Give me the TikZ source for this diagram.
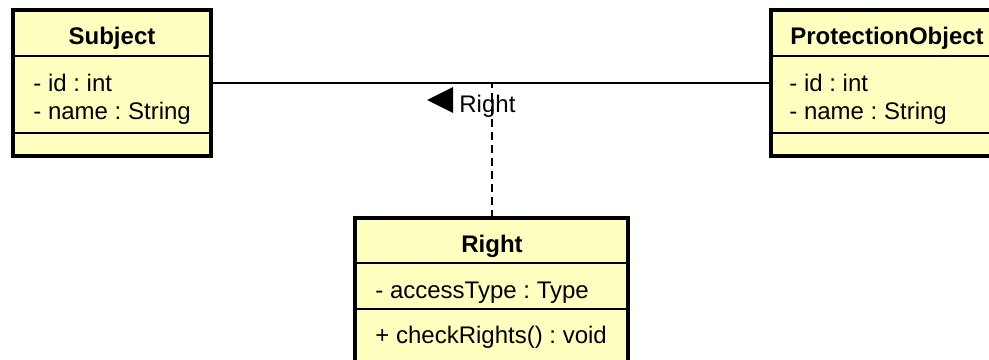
\documentclass[tikz,border=0pt]{standalone}
\usepackage{fontspec}
\setmainfont{Liberation Sans}
\frenchspacing
\definecolor{classfill}{HTML}{FFFFC0}
\tikzset{
  classbox/.style={draw=black, fill=classfill, line width=1.6pt, rectangle, inner sep=0pt, outer sep=0pt},
  divider/.style={draw=black, line width=0.7pt},
  txt/.style={font=\fontsize{12pt}{14pt}\selectfont, inner sep=0pt, anchor=base west},
  ttl/.style={font=\fontsize{12pt}{14pt}\selectfont\bfseries, inner sep=0pt, anchor=base},
  assoc/.style={draw=black, line width=1pt},
  dep/.style={draw=black, line width=1pt, dash pattern=on 4pt off 2.5pt},
}
\begin{document}
\begin{tikzpicture}[x=0.5pt, y=-0.5pt]
\clip (0,0) rectangle (989,359);
\fill[white] (0,0) rectangle (989,359);
% classes
\node[classbox, minimum width=99pt, minimum height=73pt] (subj) at (112,83) {};
\node[classbox, minimum width=117pt, minimum height=73pt] (po) at (888,83) {};
\node[classbox, minimum width=136.5pt, minimum height=76pt] (right) at (491.5,294) {};
% dividers
\draw[divider] ([yshift=-23pt]subj.north west) -- ([yshift=-23pt]subj.north east);
\draw[divider] ([yshift=-61.5pt]subj.north west) -- ([yshift=-61.5pt]subj.north east);
\draw[divider] ([yshift=-23pt]po.north west) -- ([yshift=-23pt]po.north east);
\draw[divider] ([yshift=-61.5pt]po.north west) -- ([yshift=-61.5pt]po.north east);
\draw[divider] ([yshift=-22.5pt]right.north west) -- ([yshift=-22.5pt]right.north east);
\draw[divider] ([yshift=-45.5pt]right.north west) -- ([yshift=-45.5pt]right.north east);
% texts
\node[ttl] (subjT) at (112,44) {Subject};
\node[txt] (subjA1) at (33,91) {- id : int};
\node[txt] (subjA2) at (33,119.5) {- name : String};
\node[ttl] (poT) at (887,44) {ProtectionObject};
\node[txt] (poA1) at (789,91) {- id : int};
\node[txt] (poA2) at (789,119.5) {- name : String};
\node[ttl] (rightT) at (492,252) {Right};
\node[txt] (rightA1) at (375,298) {- accessType : Type};
\node[txt] (rightM1) at (375,343) {+ checkRights() : void};
% connectors
\draw[assoc] (subj.east) -- (po.west);
\coordinate (join) at (right.north |- subj.east);
\draw[dep] (right.north) -- (join);
% association label
\node[txt] (lbl) at (459,112) {Right};
\fill[black] (427,100) -- (453,87) -- (453,113) -- cycle;
\end{tikzpicture}
\end{document}
